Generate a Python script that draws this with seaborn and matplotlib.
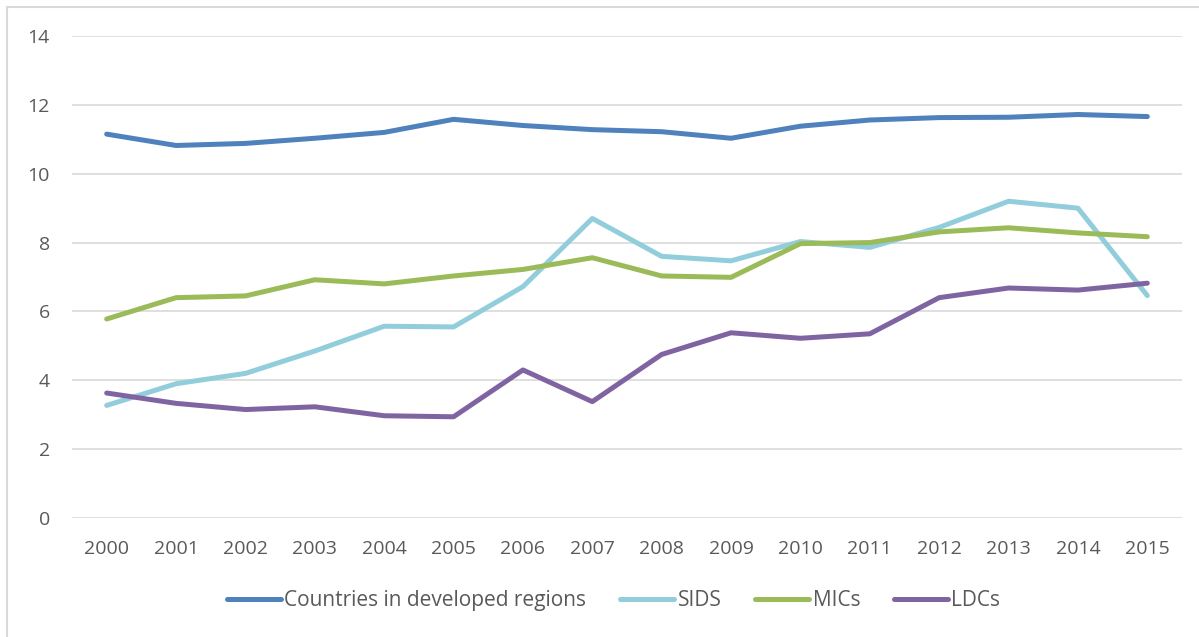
import matplotlib
matplotlib.use("Agg")
import matplotlib.pyplot as plt
from matplotlib.patches import Rectangle
import seaborn as sns
import pandas as pd

years = list(range(2000, 2016))
developed = [11.15, 10.82, 10.88, 11.03, 11.20, 11.58, 11.40, 11.28, 11.22, 11.03, 11.38, 11.56, 11.63, 11.64, 11.72, 11.66]
sids = [3.27, 3.90, 4.20, 4.85, 5.57, 5.55, 6.72, 8.70, 7.60, 7.47, 8.03, 7.86, 8.44, 9.20, 9.00, 6.46]
mics = [5.78, 6.40, 6.45, 6.92, 6.80, 7.03, 7.22, 7.56, 7.03, 6.99, 7.97, 8.00, 8.31, 8.43, 8.28, 8.17]
ldcs = [3.63, 3.33, 3.15, 3.23, 2.97, 2.94, 4.30, 3.38, 4.75, 5.38, 5.22, 5.35, 6.40, 6.68, 6.62, 6.82]
series_names = ["Countries in developed regions", "SIDS", "MICs", "LDCs"]
colors = ["#4F81BD", "#92CDDC", "#9BBB59", "#8064A2"]

df = pd.DataFrame({"Year": years * 4,
                   "Value": developed + sids + mics + ldcs,
                   "Series": sum([[n] * len(years) for n in series_names], [])})

sns.set_theme(style="white")
plt.rcParams["font.family"] = ["Open Sans", "DejaVu Sans"]

fig = plt.figure(figsize=(11.99, 6.37), dpi=100)
ax = fig.add_axes([72 / 1199, 1 - 518 / 637, (1182 - 72) / 1199, (518 - 36) / 637])

sns.lineplot(data=df, x="Year", y="Value", hue="Series", hue_order=series_names,
             palette=colors, linewidth=3.6, ax=ax, legend=True,
             solid_capstyle="round")

ax.set_xlim(1999.5, 2015.5)
ax.set_ylim(0, 14)
ax.set_yticks(range(0, 15, 2))
ax.set_xticks(years)
ax.set_xticklabels([str(y) for y in years])
ax.grid(axis="y", color="#D9D9D9", linewidth=1.2)
ax.grid(axis="x", visible=False)
ax.set_axisbelow(True)
for s in ax.spines.values():
    s.set_visible(False)
ax.set_xlabel("")
ax.set_ylabel("")
ax.tick_params(axis="both", length=0, labelsize=14, labelcolor="#595959")
ax.tick_params(axis="y", pad=16)
ax.tick_params(axis="x", pad=16)

handles, labels = ax.get_legend_handles_labels()
for h in handles:
    h.set_linewidth(3.6)
    h.set_solid_capstyle("round")
leg = ax.legend(handles, labels, loc="center", bbox_to_anchor=(0.488, -0.172),
                ncol=4, frameon=False, handlelength=2.6, handletextpad=0.15,
                columnspacing=1.63, prop={"size": 15})
for t in leg.get_texts():
    t.set_color("#595959")

fig.patches.append(Rectangle((7 / 1199, -0.1), 1.2, 1 - 7 / 637 + 0.1,
                             transform=fig.transFigure, fill=False,
                             edgecolor="#D9D9D9", linewidth=1.5))

fig.savefig("out.png", dpi=100, facecolor="white")
